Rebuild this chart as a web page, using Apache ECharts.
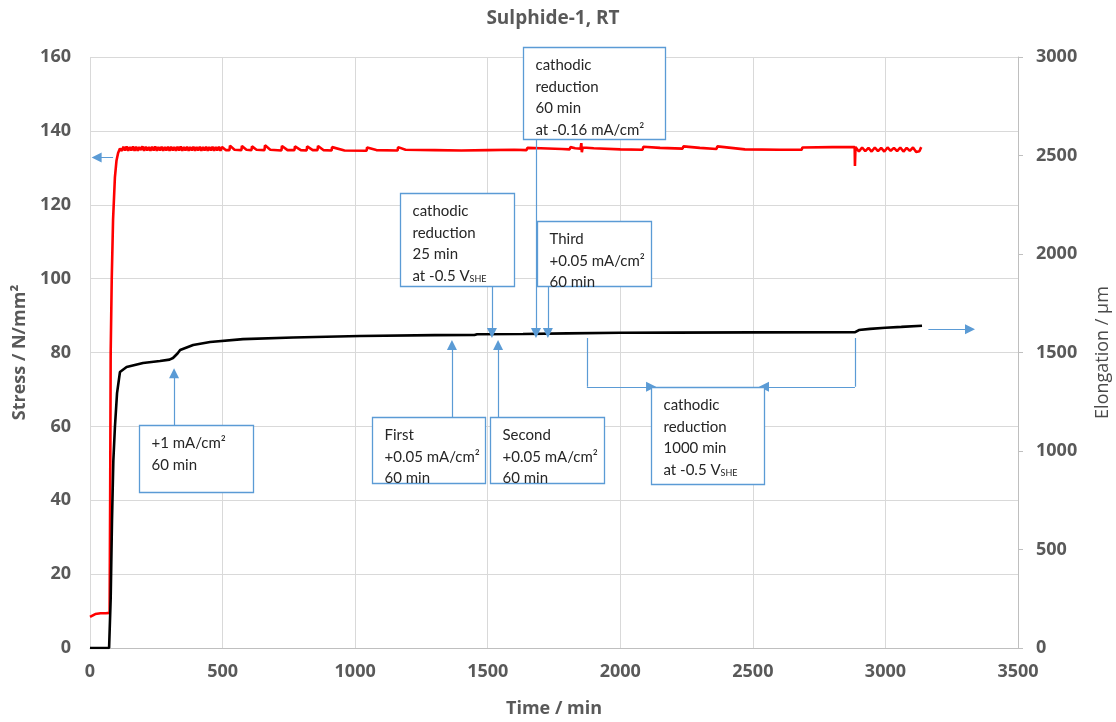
<!DOCTYPE html>
<html>
<head>
<meta charset="utf-8">
<script src="https://cdn.jsdelivr.net/npm/echarts@6/dist/echarts.min.js"></script>
<style>
  html, body { margin: 0; padding: 0; background: #ffffff; }
  #chart { width: 1116px; height: 722px; }
</style>
</head>
<body>
<div id="chart"></div>
<script>
// Axis ranges and ticks
const timeTicks = { min: 0, max: 3500, interval: 500 };
const stressTicks = { min: 0, max: 160, interval: 20 };
const elongationTicks = { min: 0, max: 3000, interval: 500 };

// Stress (N/mm²) against time (min)
const stressCurve = [
  [0, 8.4], [20, 9.2], [40, 9.4], [60, 9.4], [74, 9.5], [76, 40], [78, 80], [82, 100],
  [87, 116], [94, 127.5], [100, 132], [106, 134], [113, 135.2],
  [120, 134.6], [126, 135.7], [132, 134.7], [138, 135.8], [144, 134.6], [150, 135.6],
  [156, 134.7], [162, 135.8], [168, 134.6], [174, 135.7], [180, 134.6], [186, 135.6],
  [192, 134.8], [198, 135.8], [204, 134.6], [210, 135.7], [216, 134.7], [222, 135.6],
  [228, 134.6], [234, 135.7], [240, 134.7], [246, 135.8], [252, 134.6], [258, 135.6],
  [264, 134.7], [270, 135.7], [276, 134.6], [282, 135.6], [288, 134.7], [294, 135.7],
  [300, 134.6], [306, 135.7], [312, 134.7], [318, 135.6], [324, 134.6], [330, 135.7],
  [336, 134.7], [342, 135.8], [348, 134.6], [354, 135.6], [360, 134.7], [366, 135.7],
  [372, 134.6], [378, 135.6], [384, 134.7], [390, 135.7], [396, 134.6], [402, 135.6],
  [408, 134.7], [414, 135.7], [420, 134.6], [426, 135.6], [432, 134.7], [438, 135.7],
  [444, 134.6], [450, 135.6], [456, 134.7], [462, 135.7], [468, 134.6], [474, 135.6],
  [480, 134.7], [486, 135.7], [492, 134.6], [498, 135.6], [512, 134.8],
  [526, 134.8], [528, 136.0], [545, 134.9], [571, 134.8], [573, 135.9], [590, 134.9],
  [609, 134.8], [611, 135.8], [628, 134.9], [658, 134.8], [660, 136.1], [680, 134.9],
  [722, 134.7], [724, 135.9], [745, 134.8], [771, 134.8], [773, 135.8], [795, 134.8],
  [817, 134.7], [819, 135.8], [840, 134.8], [858, 134.8], [860, 135.9], [880, 134.8],
  [911, 134.7], [913, 135.6], [960, 134.7], [1043, 134.6], [1045, 135.5], [1080, 134.8],
  [1160, 134.7], [1162, 135.6], [1190, 134.9], [1300, 134.8], [1400, 134.7], [1500, 134.8],
  [1600, 134.9], [1646, 134.8], [1650, 135.4], [1700, 135.3], [1780, 135.1], [1809, 135.0],
  [1812, 135.6], [1830, 135.3], [1850, 135.2], [1853, 136.7], [1855, 134.2], [1858, 135.5],
  [1900, 135.3], [2000, 135.0], [2084, 134.9], [2087, 135.7], [2150, 135.4], [2235, 135.2],
  [2238, 135.8], [2300, 135.4], [2363, 135.1], [2366, 135.8], [2470, 135.0], [2600, 134.9],
  [2684, 134.9], [2687, 135.5], [2800, 135.6], [2884, 135.6], [2885, 130.5], [2887, 135.6],
  [2900, 134.4], [2912, 135.5], [2924, 134.5], [2936, 135.4], [2948, 134.4], [2960, 135.5],
  [2972, 134.5], [2984, 135.4], [2996, 134.4], [3008, 135.5], [3020, 134.6], [3032, 135.4],
  [3044, 134.5], [3056, 135.5], [3068, 134.4], [3080, 135.4], [3092, 134.6], [3104, 135.5],
  [3116, 134.3], [3128, 134.5], [3135, 135.6]
];

// Elongation (µm) against time (min)
const elongationCurve = [
  [0, 0], [72, 0], [75, 0], [78, 250], [83, 650], [88, 950], [94, 1122], [102, 1294],
  [113, 1401], [138, 1426], [200, 1447], [264, 1457], [300, 1464], [313, 1472],
  [330, 1495], [340, 1513], [389, 1538], [453, 1553], [577, 1568], [766, 1576],
  [1018, 1584], [1300, 1588], [1450, 1589], [1460, 1593], [1633, 1594], [1800, 1597],
  [2000, 1600], [2200, 1601], [2500, 1602], [2886, 1603], [2900, 1614], [2942, 1620],
  [3000, 1626], [3060, 1630], [3138, 1636]
];

// Annotation boxes: corners in (time, stress) units and their text lines
const noteBoxes = [
  { from: [185, 60.4], to: [615, 42.2], lines: ['+1 mA/cm²', '60 min'] },
  { from: [1169, 123.2], to: [1599, 98.0], lines: ['cathodic', 'reduction', '25 min', 'at -0.5 V{s|SHE}'] },
  { from: [1686, 115.6], to: [2116, 98.0], lines: ['Third', '+0.05 mA/cm²', '60 min'] },
  { from: [1633, 162.7], to: [2169, 137.8], lines: ['cathodic', 'reduction', '60 min', 'at -0.16 mA/cm²'] },
  { from: [1064, 62.5], to: [1490, 44.7], lines: ['First', '+0.05 mA/cm²', '60 min'] },
  { from: [1509, 62.5], to: [1939, 44.5], lines: ['Second', '+0.05 mA/cm²', '60 min'] },
  { from: [2116, 70.7], to: [2542, 44.4], lines: ['cathodic', 'reduction', '1000 min', 'at -0.5 V{s|SHE}'] }
];

// Pointer arrows (tail -> head) in (time, stress) units
const pointerArrows = [
  [[317, 60.4], [317, 74.4]],
  [[1516, 98.0], [1516, 85.3]],
  [[1727, 98.0], [1727, 85.3]],
  [[1682, 137.8], [1682, 85.3]],
  [[1365, 62.5], [1365, 82.0]],
  [[1539, 62.5], [1539, 82.0]],
  [[1874, 70.7], [2116, 70.7]],
  [[2885, 70.7], [2542, 70.7]],
  [[3162, 86.3], [3319, 86.3]],
  [[87, 132.8], [25, 132.8]]
];

// Leader segments without heads
const leaderSegments = [
  [[1874, 83.9], [1874, 70.7]],
  [[2885, 83.9], [2885, 70.7]]
];

const axisGrey = '#595959';
const noteBlue = '#5b9bd5';
const tickFont = { color: axisGrey, fontSize: 18, fontWeight: 'bold', fontFamily: 'Open Sans' };
const plainNumber = function (v) { return String(v); };

const chart = echarts.init(document.getElementById('chart'), null, { renderer: 'canvas' });

chart.setOption({
  animation: false,
  backgroundColor: '#ffffff',
  title: {
    text: 'Sulphide-1, RT',
    left: 548,
    top: 4,
    textAlign: 'center',
    textStyle: { color: axisGrey, fontSize: 19, fontWeight: 'bold', fontFamily: 'Open Sans' }
  },
  grid: { left: 90, right: 98, top: 57, bottom: 74, outerBoundsMode: 'none', containLabel: false },
  xAxis: {
    type: 'value',
    min: timeTicks.min, max: timeTicks.max, interval: timeTicks.interval,
    name: 'Time / min',
    nameLocation: 'middle',
    nameGap: 52,
    nameTextStyle: { color: axisGrey, fontSize: 18, fontWeight: 'bold', fontFamily: 'Open Sans' },
    axisLine: { show: true, lineStyle: { color: '#bfbfbf', width: 1 } },
    axisTick: { show: false },
    axisLabel: Object.assign({ margin: 15, formatter: plainNumber }, tickFont),
    splitLine: { show: true, lineStyle: { color: '#d9d9d9', width: 1 } }
  },
  yAxis: [
    {
      type: 'value',
      min: stressTicks.min, max: stressTicks.max, interval: stressTicks.interval,
      name: 'Stress / N/mm²',
      nameLocation: 'middle',
      nameRotate: 90,
      nameGap: 60,
      nameTextStyle: { color: axisGrey, fontSize: 18, fontWeight: 'bold', fontFamily: 'Open Sans' },
      axisLine: { show: false },
      axisTick: { show: false },
      axisLabel: Object.assign({ margin: 19, formatter: plainNumber }, tickFont),
      splitLine: { show: true, lineStyle: { color: '#d9d9d9', width: 1 } }
    },
    {
      type: 'value',
      position: 'right',
      min: elongationTicks.min, max: elongationTicks.max, interval: elongationTicks.interval,
      name: 'Elongation / µm',
      nameLocation: 'middle',
      nameRotate: 90,
      nameGap: 76,
      nameTextStyle: { color: '#4a4a4a', fontSize: 18, fontWeight: 'normal', fontFamily: 'Open Sans' },
      axisLine: { show: true, lineStyle: { color: '#bfbfbf', width: 1 } },
      axisTick: { show: true, inside: false, length: 5, lineStyle: { color: '#bfbfbf' } },
      axisLabel: Object.assign({ margin: 18, formatter: plainNumber }, tickFont),
      splitLine: { show: false }
    }
  ],
  series: [
    {
      name: 'Stress',
      type: 'line',
      yAxisIndex: 0,
      data: stressCurve,
      showSymbol: false,
      lineStyle: { color: '#ff0000', width: 2.6 },
      z: 3
    },
    {
      name: 'Elongation',
      type: 'line',
      yAxisIndex: 1,
      data: elongationCurve,
      showSymbol: false,
      lineStyle: { color: '#000000', width: 2.6 },
      z: 3
    },
    {
      name: 'leaders',
      type: 'lines',
      coordinateSystem: 'cartesian2d',
      xAxisIndex: 0,
      yAxisIndex: 0,
      symbol: ['none', 'none'],
      lineStyle: { color: noteBlue, width: 1.2, opacity: 1, curveness: 0 },
      data: leaderSegments.map(function (seg) { return { coords: seg }; }),
      z: 4
    },
    {
      name: 'pointers',
      type: 'lines',
      coordinateSystem: 'cartesian2d',
      xAxisIndex: 0,
      yAxisIndex: 0,
      symbol: ['none', 'triangle'],
      symbolSize: [9, 10],
      lineStyle: { color: noteBlue, width: 1.2, opacity: 1, curveness: 0 },
      data: pointerArrows.map(function (seg) { return { coords: seg }; }),
      z: 4
    }
  ]
});

// Annotation boxes placed through the axis scales
function placeNotes() {
  const elements = [];
  noteBoxes.forEach(function (box) {
    const p0 = chart.convertToPixel({ xAxisIndex: 0, yAxisIndex: 0 }, box.from);
    const p1 = chart.convertToPixel({ xAxisIndex: 0, yAxisIndex: 0 }, box.to);
    const x = Math.round(Math.min(p0[0], p1[0])) + 0.5;
    const y = Math.round(Math.min(p0[1], p1[1])) + 0.5;
    const w = Math.round(Math.abs(p1[0] - p0[0]));
    const h = Math.round(Math.abs(p1[1] - p0[1]));
    elements.push({
      type: 'rect',
      shape: { x: x, y: y, width: w, height: h },
      style: { fill: '#ffffff', stroke: noteBlue, lineWidth: 1.3 },
      z: 10
    });
    box.lines.forEach(function (line, i) {
      elements.push({
        type: 'text',
        x: x + 12,
        y: y + 18 + i * 21.5,
        style: {
          text: line,
          fill: '#262626',
          fontSize: 15,
          fontFamily: 'Lato',
          verticalAlign: 'middle',
          align: 'left',
          rich: {
            s: { fontSize: 9, fontFamily: 'Lato', fill: '#262626', padding: [7, 0, 0, 0] }
          }
        },
        z: 11
      });
    });
  });
  chart.setOption({ graphic: elements });
}
placeNotes();
</script>
</body>
</html>
